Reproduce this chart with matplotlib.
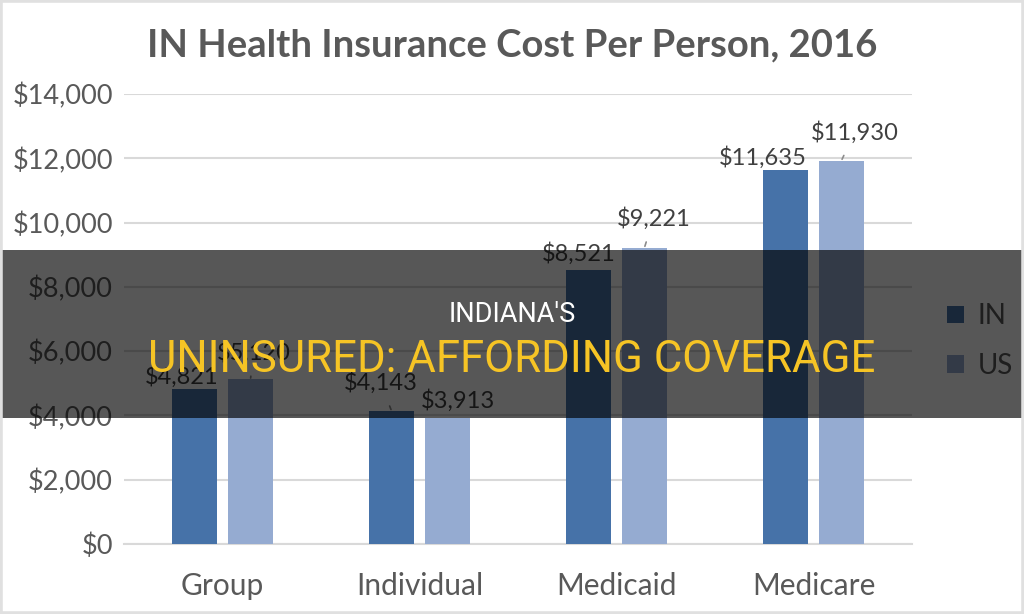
import matplotlib
matplotlib.use("Agg")
import matplotlib.pyplot as plt
from matplotlib.patches import Rectangle
import numpy as np

categories = ["Group", "Individual", "Medicaid", "Medicare"]
series_names = ["IN", "US"]
in_values = [4821, 4143, 8521, 11635]
us_values = [5120, 3913, 9221, 11930]
y_ticks = [0, 2000, 4000, 6000, 8000, 10000, 12000, 14000]
title = "IN Health Insurance Cost Per Person, 2016"
overlay_line1 = "INDIANA'S"
overlay_line2 = "UNINSURED: AFFORDING COVERAGE"

IN_COLOR = "#4672a8"
US_COLOR = "#95abd1"
TXT = "#595959"
GRID = "#d9d9d9"
FONT = "Lato"

W, H = 1024, 614
fig = plt.figure(figsize=(W / 100, H / 100), dpi=100)
fig.patch.set_facecolor("white")

ax = fig.add_axes([124 / W, 1 - 544 / H, (912 - 124) / W, (544 - 94) / H])
x = np.arange(len(categories))
bw = 0.224
off = 0.142
b1 = ax.bar(x - off, in_values, bw, color=IN_COLOR, label=series_names[0], zorder=3)
b2 = ax.bar(x + off, us_values, bw, color=US_COLOR, label=series_names[1], zorder=3)

ax.set_xlim(-0.5, 3.5)
ax.set_ylim(0, 14000)
ax.set_yticks(y_ticks)
ax.set_yticklabels([f"${v:,}" for v in y_ticks], fontsize=19.5, color=TXT, family=FONT)
ax.set_xticks(x)
ax.set_xticklabels(categories, fontsize=21.5, color=TXT, family=FONT)
ax.tick_params(axis="both", length=0)
ax.tick_params(axis="y", pad=8)
ax.tick_params(axis="x", pad=20)
ax.grid(axis="y", color=GRID, lw=1.5, zorder=0)
for s in ["top", "right", "left"]:
    ax.spines[s].set_visible(False)
ax.spines["bottom"].set_color(GRID)
ax.spines["bottom"].set_linewidth(1.5)
ax.set_facecolor("none")

# data label offsets (pixels): dx, dy, leader
in_offs = [(-13, 13, False), (-11, 28, True), (-10, 17, False), (-23, 13, False)]
us_offs = [(3, 27, True), (11, 18, False), (9, 29, True), (13, 28, True)]
px2pt = 72 / 100
for vals, xs, offs in [(in_values, x - off, in_offs), (us_values, x + off, us_offs)]:
    for v, xi, (dx, dy, lead) in zip(vals, xs, offs):
        ap = dict(arrowstyle="-", color="#8c8c8c", lw=1.2, shrinkA=7, shrinkB=1) if lead else None
        ax.annotate(f"${v:,}", xy=(xi, v), xytext=(dx * px2pt, dy * px2pt),
                    textcoords="offset points", ha="center", va="center",
                    fontsize=17, color="#404040", family=FONT, arrowprops=ap, zorder=4)

fig.text(512 / W, 1 - 45 / H, title, ha="center", va="center", fontsize=27.5,
         fontweight="bold", color=TXT, family=FONT)

leg = fig.legend(handles=[b1, b2], labels=series_names, loc="center left",
                 bbox_to_anchor=(922 / W, 1 - 341 / H), frameon=False,
                 fontsize=20, handlelength=0.6, handleheight=0.6,
                 labelspacing=0.85, handletextpad=0.5)
for t in leg.get_texts():
    t.set_color(TXT)
    t.set_family(FONT)

# overlay band
fig.patches.append(Rectangle((0, 1 - 418 / H), 1, (418 - 250) / H, transform=fig.transFigure,
                             facecolor="black", alpha=0.66, zorder=10))
fig.text(512 / W, 1 - 315 / H, overlay_line1, ha="center", va="center", fontsize=19.5,
         color="white", family="Roboto", zorder=11)
fig.text(512 / W, 1 - 360 / H, overlay_line2, ha="center", va="center", fontsize=31.5,
         color="#f6c425", family="Roboto", zorder=11)

# thin border
fig.patches.append(Rectangle((0, 0), 1, 1, transform=fig.transFigure, fill=False,
                             edgecolor="#e0e0e0", lw=4, zorder=12))

fig.savefig("out.png", dpi=100)
